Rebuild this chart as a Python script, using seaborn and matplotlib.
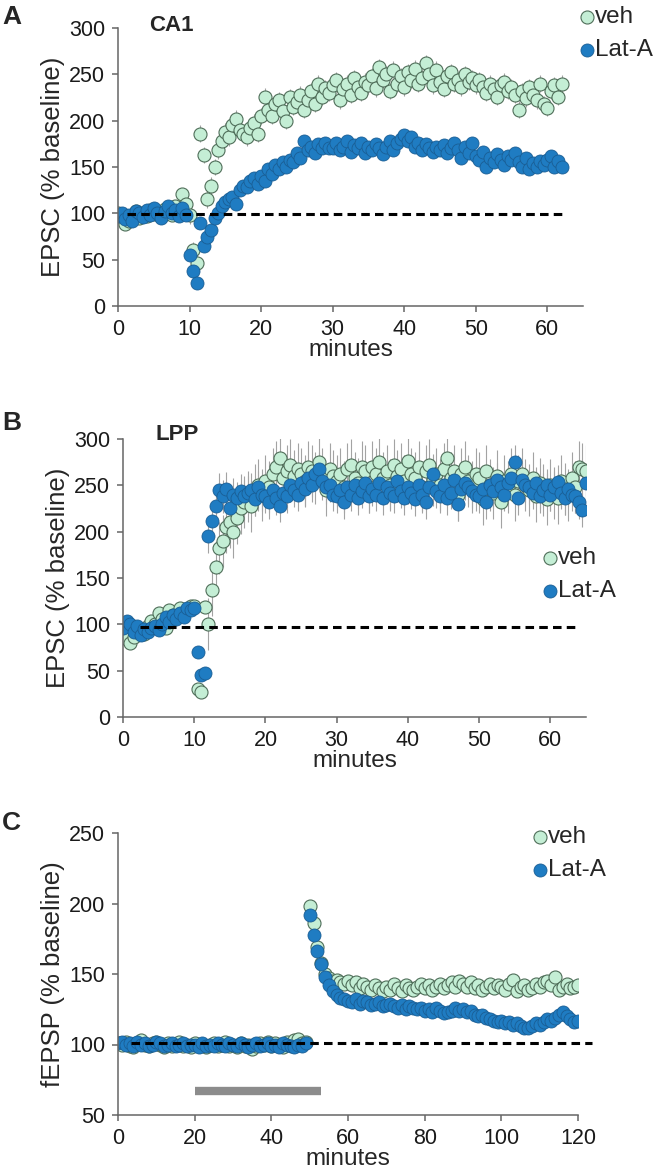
import numpy as np
import pandas as pd
import matplotlib
matplotlib.use("Agg")
import matplotlib.pyplot as plt
import seaborn as sns

# ---- data (values in % baseline) ----
# panel A (CA1), one point every 0.5 min from 0 to 62
a_veh = [100, 96, 88, 92, 98, 103, 95, 100, 97, 104,
         99, 102, 96, 105, 100, 98, 108, 103, 121, 110,
         98, 60, 46, 186, 163, 115, 130, 150, 168, 178,
         188, 182, 195, 202, 190, 186, 182, 192, 198, 186,
         205, 226, 212, 205, 218, 222, 210, 200, 225, 215,
         220, 228, 212, 222, 232, 218, 240, 226, 235, 230,
         238, 244, 222, 234, 240, 228, 246, 236, 230, 242,
         238, 248, 235, 258, 244, 250, 232, 255, 240, 248,
         236, 252, 244, 256, 240, 246, 262, 250, 238, 255,
         242, 234, 248, 252, 240, 244, 236, 250, 242, 246,
         238, 244, 236, 230, 240, 234, 226, 238, 242, 232,
         236, 228, 212, 232, 224, 236, 228, 222, 240, 218,
         214, 232, 238, 226, 240]
a_lat = [97, 100, 94, 98, 92, 103, 100, 96, 104, 98,
         106, 100, 95, 103, 108, 100, 104, 97, 106, 98,
         55, 38, 25, 90, 65, 75, 82, 95, 100, 108,
         112, 115, 118, 110, 125, 130, 128, 135, 138, 132,
         140, 135, 148, 142, 152, 148, 155, 150, 158, 155,
         165, 160, 178, 168, 172, 165, 175, 170, 176, 170,
         170, 176, 168, 172, 178, 166, 174, 170, 176, 165,
         172, 168, 175, 170, 164, 172, 178, 168, 176, 180,
         184, 178, 182, 172, 176, 168, 175, 170, 166, 172,
         168, 174, 165, 170, 176, 168, 160, 172, 165, 176,
         162, 158, 166, 150, 160, 155, 164, 158, 152, 162,
         158, 165, 155, 150, 160, 148, 154, 150, 156, 152,
         158, 162, 150, 156, 150]
a_sem = {"veh": [4, 9], "Lat-A": [3, 5]}          # before / after 10 min

# panel B (LPP), one point every 0.5 min from 0 to 65
b_veh = [88, 84, 80, 86, 92, 95, 90, 98, 104, 100,
         112, 106, 96, 115, 110, 108, 118, 112, 116, 120,
         120, 30, 27, 119, 100, 137, 162, 182, 190, 205,
         210, 200, 215, 225, 232, 238, 228, 245, 250, 240,
         255, 248, 262, 270, 280, 258, 265, 272, 260, 268,
         262, 255, 270, 265, 258, 275, 262, 245, 268, 260,
         255, 262, 248, 268, 272, 258, 252, 270, 265, 248,
         270, 262, 275, 258, 266, 250, 272, 260, 268, 255,
         276, 262, 258, 270, 248, 265, 272, 256, 262, 250,
         268, 280, 258, 266, 240, 262, 270, 255, 248, 262,
         258, 235, 265, 250, 242, 260, 232, 255, 248, 262,
         240, 255, 262, 250, 245, 258, 238, 252, 245, 235,
         250, 242, 236, 255, 246, 240, 258, 248, 270, 268,
         266]
b_lat = [96, 104, 100, 92, 98, 88, 95, 92, 96, 98,
         94, 100, 108, 102, 110, 106, 112, 108, 118, 115,
         118, 70, 45, 48, 195, 212, 228, 245, 238, 246,
         225, 240, 236, 244, 238, 242, 245, 235, 248, 240,
         238, 232, 245, 236, 228, 242, 238, 250, 245, 240,
         252, 246, 258, 250, 262, 268, 255, 248, 250, 240,
         238, 245, 232, 248, 240, 250, 236, 244, 252, 238,
         246, 240, 252, 236, 248, 242, 238, 255, 244, 236,
         248, 242, 235, 250, 240, 232, 248, 262, 244, 238,
         250, 236, 242, 256, 230, 246, 252, 248, 244, 240,
         238, 246, 232, 250, 244, 256, 248, 240, 252, 258,
         275, 236, 256, 250, 248, 242, 252, 238, 245, 250,
         240, 248, 254, 242, 236, 246, 240, 238, 232, 223,
         252]
b_sem = {"veh": [6, 28], "Lat-A": [5, 18]}

# panel C (fEPSP), one point per minute from 0 to 120
c_veh = [101, 100, 102, 99, 98, 101, 103, 100, 99, 101,
         102, 100, 98, 101, 99, 100, 102, 99, 100, 98,
         101, 99, 100, 98, 100, 101, 99, 100, 102, 99,
         100, 98, 101, 99, 100, 97, 99, 101, 100, 102,
         99, 101, 100, 98, 102, 100, 103, 104, 101, 102,
         198, 186, 169, 158, 150, 147, 145, 146, 144, 143,
         145, 142, 144, 140, 143, 141, 139, 142, 140, 138,
         141, 139, 143, 140, 138, 142, 140, 139, 141, 143,
         140, 142, 139, 141, 143, 140, 142, 144, 141, 145,
         143, 141, 144, 140, 142, 139, 141, 143, 140, 142,
         141, 139, 143, 146, 138, 141, 142, 139, 140, 143,
         141, 144, 145, 142, 148, 139, 141, 143, 140, 141,
         142]
c_lat = [101, 102, 100, 101, 99, 102, 100, 101, 99, 100,
         102, 101, 99, 100, 101, 99, 100, 101, 99, 100,
         100, 98, 101, 99, 100, 99, 101, 100, 99, 101,
         100, 99, 101, 100, 98, 100, 101, 99, 100, 101,
         99, 100, 98, 101, 100, 99, 98, 100, 99, 101,
         192, 178, 166, 157, 148, 142, 138, 135, 133, 132,
         131, 130, 132, 129, 131, 130, 128, 129, 130, 127,
         128, 129, 127, 126, 128, 125, 127, 126, 125, 126,
         124, 125, 123, 126, 124, 122, 123, 124, 126, 124,
         125, 123, 124, 121, 120, 121, 119, 118, 117, 116,
         117, 115, 116, 114, 115, 113, 112, 112, 113, 115,
         114, 116, 118, 117, 119, 121, 123, 120, 118, 116,
         117]
c_sem = {"veh": [2, 4], "Lat-A": [2, 3]}

bar_start, bar_end, bar_level = 20, 53, 67   # grey bar in panel C

# ---- style ----
sns.set_style("ticks")
plt.rcParams["font.family"] = ["Liberation Sans", "DejaVu Sans"]
plt.rcParams["axes.edgecolor"] = "#666666"
plt.rcParams["axes.linewidth"] = 1.1
plt.rcParams["xtick.color"] = "#666666"
plt.rcParams["ytick.color"] = "#666666"
plt.rcParams["xtick.labelcolor"] = "#1a1a1a"
plt.rcParams["ytick.labelcolor"] = "#1a1a1a"

styles = {
    "veh": dict(color="#c4eed5", edgecolor="#4f6e59", linewidth=0.8),
    "Lat-A": dict(color="#1f7cc2", edgecolor="#1a5e94", linewidth=0.6),
}


def make_df(step, veh, lat, sem, split):
    rows = []
    for name, vals in [("veh", veh), ("Lat-A", lat)]:
        t = np.arange(len(vals)) * step
        d = pd.DataFrame({"minutes": t, "value": vals, "group": name})
        d["err"] = np.where(t < split, sem[name][0], sem[name][1])
        rows.append(d)
    return pd.concat(rows, ignore_index=True)


def draw(ax, df, ylabel, dash_x, dash_y):
    for name in ["veh", "Lat-A"]:
        d = df[df["group"] == name]
        ax.errorbar(d["minutes"], d["value"], yerr=d["err"], fmt="none",
                    ecolor="#a3a3a3", elinewidth=0.8, capsize=0, zorder=1)
    for name in ["veh", "Lat-A"]:
        d = df[df["group"] == name]
        sns.scatterplot(data=d, x="minutes", y="value", ax=ax, s=88,
                        label=name, zorder=2, **styles[name])
    ax.plot(dash_x, [dash_y, dash_y], color="black", lw=2.2,
            dashes=(2.8, 1.7), zorder=3, clip_on=False)
    ax.set_ylabel(ylabel, fontsize=18.5, labelpad=3)
    ax.set_xlabel("minutes", fontsize=17.5, labelpad=-1)
    ax.tick_params(labelsize=15.5, length=4.3, width=1.1, pad=5)
    sns.despine(ax=ax)


fig = plt.figure(figsize=(6.56, 11.75), dpi=100)
W, H = 656, 1175
axA = fig.add_axes([118 / W, 1 - 306 / H, 465 / W, 278 / H])
axB = fig.add_axes([123 / W, 1 - 717 / H, 463 / W, 278 / H])
axC = fig.add_axes([118 / W, 1 - 1115 / H, 460 / W, 282 / H])

dfA = make_df(0.5, a_veh, a_lat, a_sem, 10)
dfB = make_df(0.5, b_veh, b_lat, b_sem, 12)
dfC = make_df(1.0, c_veh, c_lat, c_sem, 50)

draw(axA, dfA, "EPSC (% baseline)", [1.2, 62], 99)
draw(axB, dfB, "EPSC (% baseline)", [2.4, 63.8], 97)
draw(axC, dfC, "fEPSP (% baseline)", [3.4, 123.7], 101)

axA.set_xlim(0, 65)
axA.set_ylim(0, 300)
axA.set_xticks(range(0, 61, 10))
axA.set_yticks(range(0, 301, 50))
axB.set_xlim(0, 65)
axB.set_ylim(0, 300)
axB.set_xticks(range(0, 61, 10))
axB.set_yticks(range(0, 301, 50))
axC.set_xlim(0, 120)
axC.set_ylim(50, 250)
axC.set_xticks(range(0, 121, 20))
axC.set_yticks(range(50, 251, 50))

axC.plot([bar_start, bar_end], [bar_level, bar_level], color="#8c8c8c",
         lw=6, solid_capstyle="butt", zorder=1)

axA.text(0.068, 1.01, "CA1", transform=axA.transAxes, fontsize=16,
         fontweight="bold", va="center", ha="left")
axB.text(0.071, 1.015, "LPP", transform=axB.transAxes, fontsize=16,
         fontweight="bold", va="center", ha="left")

for ax, anchor in [(axA, (578, 6)), (axB, (541, 547)), (axC, (531, 826))]:
    ax.legend(loc="upper left", bbox_to_anchor=(anchor[0] / W, 1 - anchor[1] / H),
              bbox_transform=fig.transFigure, frameon=False, fontsize=17.5,
              handletextpad=0.0, handlelength=0.7, labelspacing=0.45,
              borderpad=0, borderaxespad=0)

for letter, y in [("A", 17), ("B", 423), ("C", 823)]:
    fig.text(2 / W, 1 - y / H, letter, fontsize=19, fontweight="bold",
             va="center", ha="left")

fig.savefig("out.png", dpi=100)
